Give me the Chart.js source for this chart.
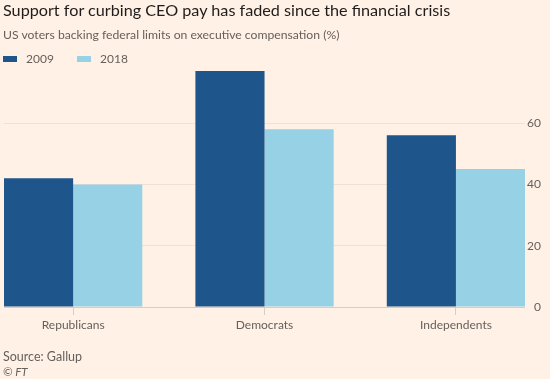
<!DOCTYPE html>
<html>
<head>
<meta charset="utf-8">
<script src="https://cdn.jsdelivr.net/npm/chart.js@4"></script>
<style>
  html, body { margin: 0; padding: 0; background: #fff1e5; }
  #wrap { position: relative; width: 550px; height: 379px; overflow: hidden; background: #fff1e5; font-family: Lato, "Noto Sans", sans-serif; }
  #chart { position: absolute; left: 0; top: 0; }
  .t { position: absolute; white-space: nowrap; line-height: 1; }
  #title { left: 3px; top: 2px; font-size: 16.2px; color: #1f1c1b; }
  #subtitle { left: 3px; top: 29px; font-size: 12.2px; color: #66605c; }
  #legend { position: absolute; left: 3px; top: 53px; font-size: 12px; color: #66605c; line-height: 1; }
  .li { position: absolute; top: 0; white-space: nowrap; }
  .sw { position: absolute; top: 2.5px; width: 14px; height: 6.5px; }
  .lt { position: absolute; left: 23px; top: 0; }
  #source { left: 3px; top: 351px; font-size: 12.5px; color: #66605c; }
  #ft { left: 3px; top: 366px; font-size: 11.5px; color: #66605c; font-style: italic; }
</style>
</head>
<body>
<div id="wrap">
  <canvas id="chart" width="550" height="379"></canvas>
  <div class="t" id="title">Support for curbing CEO pay has faded since the financial crisis</div>
  <div class="t" id="subtitle">US voters backing federal limits on executive compensation (%)</div>
  <div id="legend"></div>
  <div class="t" id="source">Source: Gallup</div>
  <div class="t" id="ft">© FT</div>
</div>
<script>
// ---- data ----
const categories = ['Republicans', 'Democrats', 'Independents'];
const seriesNames = ['2009', '2018'];
const values2009 = [42, 77, 56];
const values2018 = [40, 58, 45];
const yTickValues = [0, 20, 40, 60];
const yMax = 77;

// ---- style ----
const colors = ['#1e558b', '#96d1e5'];
const bg = '#fff1e5';
const textGrey = '#66605c';

// HTML legend built from the series names
const legendEl = document.getElementById('legend');
const legendX = [0, 74];
seriesNames.forEach((name, i) => {
  const item = document.createElement('div');
  item.className = 'li';
  item.style.left = legendX[i] + 'px';
  const sw = document.createElement('div');
  sw.className = 'sw';
  sw.style.background = colors[i];
  const tx = document.createElement('div');
  tx.className = 'lt';
  tx.textContent = name;
  item.appendChild(sw);
  item.appendChild(tx);
  legendEl.appendChild(item);
});

const seriesValues = [values2009, values2018];
const datasets = seriesNames.map((name, s) => ({
  label: name,
  data: categories.map((c, i) => ({ x: i, y: seriesValues[s][i] })),
  backgroundColor: colors[s],
  borderWidth: 0,
  categoryPercentage: 0.7225,
  barPercentage: 1.0
}));

new Chart(document.getElementById('chart'), {
  type: 'bar',
  data: { datasets },
  options: {
    responsive: false,
    animation: false,
    maintainAspectRatio: false,
    layout: { padding: { top: 71, left: 4, right: 9, bottom: 43.6 } },
    plugins: {
      legend: { display: false },
      tooltip: { enabled: false }
    },
    scales: {
      x: {
        type: 'linear',
        min: -0.3613,
        max: 2.3613,
        offset: false,
        border: { display: false },
        grid: {
          offset: false,
          drawOnChartArea: false,
          drawTicks: true,
          tickLength: 8,
          color: '#d6cdc4',
          lineWidth: 1
        },
        ticks: {
          stepSize: 1,
          includeBounds: false,
          autoSkip: false,
          maxRotation: 0,
          padding: 3,
          color: textGrey,
          font: { family: 'Lato, "Noto Sans", sans-serif', size: 12 },
          callback: (v) => (Number.isInteger(v) && categories[v] !== undefined) ? categories[v] : ''
        }
      },
      y: {
        position: 'right',
        min: 0,
        max: yMax,
        border: { display: false },
        afterBuildTicks: (scale) => { scale.ticks = yTickValues.map(v => ({ value: v })); },
        grid: {
          drawTicks: false,
          color: (ctx) => (ctx.tick && ctx.tick.value === 0) ? '#d6cdc4' : '#f1e1d4',
          lineWidth: 1
        },
        ticks: {
          padding: 1,
          crossAlign: 'far',
          color: textGrey,
          font: { family: 'Lato, "Noto Sans", sans-serif', size: 12 }
        }
      }
    }
  },
  plugins: [{
    id: 'bgfill',
    beforeDraw(chart) {
      const c = chart.ctx;
      c.save();
      c.fillStyle = bg;
      c.fillRect(0, 0, chart.width, chart.height);
      c.restore();
    }
  }]
});
</script>
</body>
</html>
